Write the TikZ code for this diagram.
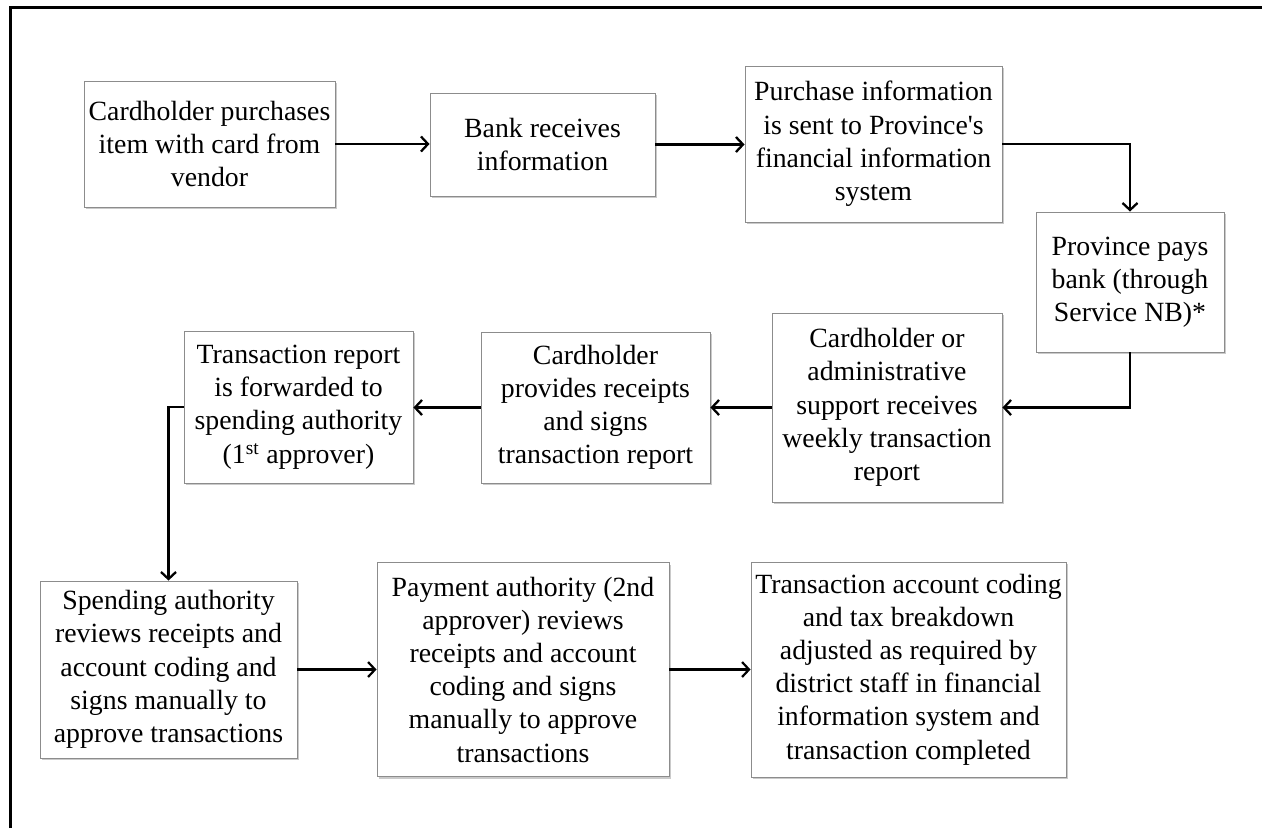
\documentclass[tikz,border=0pt]{standalone}
\usepackage{fontspec}
\setmainfont{Liberation Serif}
\usetikzlibrary{arrows.meta,shadows}
\begin{document}
\begin{tikzpicture}[x=1pt,y=-1pt,
  box/.style={draw=black!45, line width=0.9pt, fill=white, align=center,
    inner sep=0pt, font=\fontsize{27.8}{33.2}\selectfont,
    drop shadow={shadow xshift=1.5pt, shadow yshift=-2pt, fill=black!35, opacity=0.6}},
  thick arrow/.style={line width=2.8pt, -{Straight Barb[length=7pt,width=15pt,line width=2.3pt]}},
  thin arrow/.style={line width=2.4pt, -{Straight Barb[length=7pt,width=15pt,line width=2.2pt]}}]
\useasboundingbox (0,0) rectangle (1262,828);
\draw[line width=2.2pt] (10.5,828) -- (10.5,7.5) -- (1262,7.5);
\node[box, minimum width=251pt, minimum height=126pt] (n1) at (209.5,144)
  {Cardholder purchases\\item with card from\\vendor};
\node[box, minimum width=225pt, minimum height=103pt] (n2) at (542.5,144.5)
  {Bank receives\\information};
\node[box, minimum width=257pt, minimum height=156pt] (n3) at (873.5,144)
  {Purchase information\\is sent to Province\textquotesingle s\\financial information\\system};
\node[box, minimum width=188pt, minimum height=140pt] (n4) at (1130,282)
  {Province pays\\bank (through\\Service NB)*};
\node[box, minimum width=230pt, minimum height=189pt] (n5) at (887,407.5)
  {Cardholder or\\administrative\\support receives\\weekly transaction\\report};
\node[box, minimum width=229pt, minimum height=151pt] (n6) at (595.5,407.5)
  {Cardholder\\provides receipts\\and signs\\transaction report};
\node[box, minimum width=229pt, minimum height=152pt] (n7) at (298.5,407)
  {Transaction report\\is forwarded to\\spending authority\\(1\textsuperscript{st} approver)};
\node[box, minimum width=257pt, minimum height=177pt] (n8) at (168.5,669.5)
  {Spending authority\\reviews receipts and\\account coding and\\signs manually to\\approve transactions};
\node[box, minimum width=292pt, minimum height=214pt] (n9) at (523,669.5)
  {Payment authority (2nd\\approver) reviews\\receipts and account\\coding and signs\\manually to approve\\transactions};
\node[box, minimum width=315pt, minimum height=215pt] (n10) at (908.5,669.5)
  {Transaction account coding\\and tax breakdown\\adjusted as required by\\district staff in financial\\information system and\\transaction completed};
\draw[thick arrow] (n1.east) -- (n1.east -| n2.west);
\draw[thick arrow] (n2.east) -- (n2.east -| n3.west);
\draw[thick arrow] (n3.east) -| (n4.north);
\draw[thick arrow] (n4.south) |- (n5.east);
\draw[thick arrow] (n5.west) -- (n5.west -| n6.east);
\draw[thick arrow] (n6.west) -- (n6.west -| n7.east);
\draw[thick arrow] (n7.west) -| (n8.north);
\draw[thin arrow] (n8.east) -- (n8.east -| n9.west);
\draw[thin arrow] (n9.east) -- (n9.east -| n10.west);
\end{tikzpicture}
\end{document}
